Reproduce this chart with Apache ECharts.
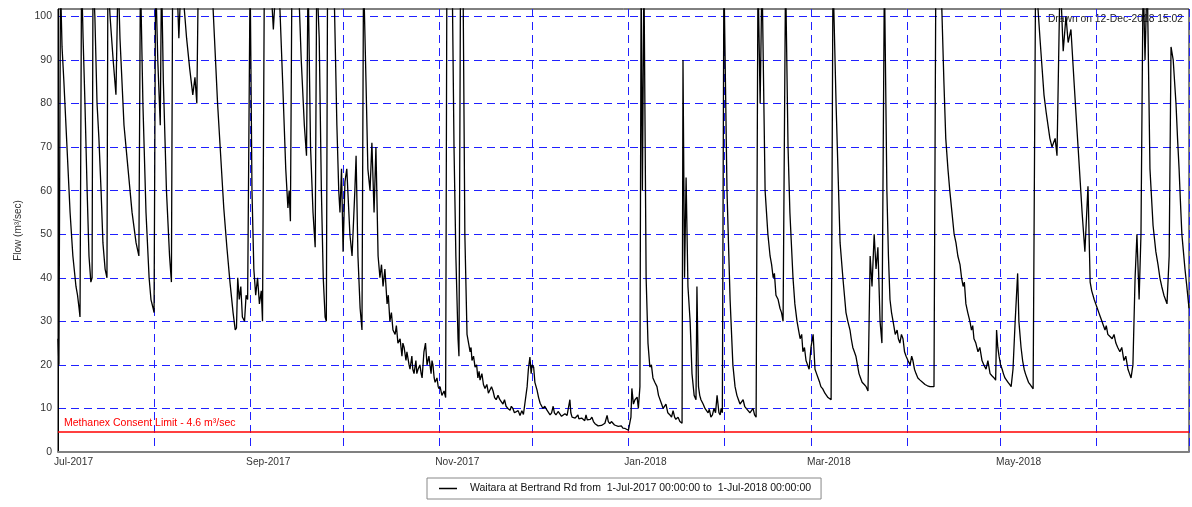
<!DOCTYPE html>
<html>
<head>
<meta charset="utf-8">
<script src="https://cdn.jsdelivr.net/npm/echarts@6/dist/echarts.min.js"></script>
<style>
html,body{margin:0;padding:0;background:#fff;}
#chart{width:1192px;height:507px;}
</style>
</head>
<body>
<div id="chart"></div>
<script>
// Flow (m3/sec); [days since 1-Jul-2017 00:00, flow]
const flowJul = [[0,26],[0.3,20],[0.8,108],[1.3,93],[1.9,85],[2.9,70],[3.9,55],[4.8,45],[5.8,38],[6.3,36],[6.8,33],[7.1,31],[7.6,110],[8.1,95],[8.7,80],[9.4,60],[10.0,45],[10.6,39],[11.0,40],[11.3,110],[11.9,100],[12.6,80],[13.2,72],[13.9,60],[14.5,48],[15.2,42],[15.8,40],[16.1,110],[16.8,100],[17.8,90],[18.7,82],[19.4,110],[20.0,95],[21.3,75],[22.6,65],[23.9,55],[25.2,48],[26.1,45],[26.6,110],[27.4,80],[28.4,55],[29.4,40],[30.0,35],[30.7,33]];
const flowAug = [[31.0,32],[31.5,110],[32.2,90],[33.0,75],[33.4,110],[34.0,85],[35.0,60],[36.0,45],[36.6,39],[37.0,110],[37.7,104],[38.3,110],[39.0,95],[39.8,110],[40.5,104],[41.5,95],[42.5,88],[43.5,82],[44.2,86],[44.8,80],[45.3,110],[46.5,104],[47.5,110],[48.5,104],[49.5,110],[50.5,95],[51.5,80],[52.5,68],[53.5,56],[54.5,47],[55.5,39],[56.5,32],[57.2,28],[57.6,28.5],[58.0,40],[58.5,35],[59.0,38],[59.5,31],[60.2,30],[60.7,36],[61.2,35]];
const flowSep = [[62.0,110],[62.6,60],[63.2,42],[63.8,36],[64.4,40],[65.0,34],[65.6,37],[66.0,30],[66.6,110],[67.5,104],[68.5,110],[69.5,97],[70.5,110],[71.5,104],[72.5,85],[73.5,65],[74.2,56],[74.6,60],[75.0,53],[75.5,110],[76.5,104],[77.5,110],[78.5,90],[79.5,75],[80.2,68],[80.7,110],[81.5,70],[82.3,55],[83.0,47],[83.5,110],[84.3,95],[85.0,60],[85.6,40],[86.2,31],[86.6,30],[87.0,110],[88.0,104],[89.0,110],[90.0,75],[90.6,60],[91.0,55],[91.5,65],[92.0,46]];
const flowOct = [[92.6,62],[93.2,65],[94.2,50],[94.9,45],[95.8,60],[96.2,68],[96.8,45],[97.5,33],[98.1,28],[98.6,110],[99.4,85],[100.0,65],[100.7,60],[101.3,71],[102.0,55],[102.6,70],[103.3,45],[103.9,40],[104.4,43],[104.9,38],[105.5,42],[106.2,34],[106.6,36],[107.1,30],[107.6,32],[108.1,28],[108.8,27],[109.2,29],[109.7,25],[110.4,26],[111.0,22],[111.3,25],[111.7,24],[112.3,21],[112.6,23],[113.0,23],[113.3,20],[113.6,19],[114.2,22],[114.5,19],[114.9,18],[115.5,21],[115.8,18],[116.2,19],[116.8,20],[117.2,18],[117.5,17],[118.1,23],[118.6,25],[119.1,20],[119.4,21],[119.7,22],[120.4,18],[120.7,21],[121.0,20],[121.4,17],[121.7,16],[122.3,17],[122.7,15],[123.0,14.5]];
const flowNov = [[123.3,15],[123.9,13],[124.6,14],[125.1,12.5],[125.5,110],[126.5,104],[127.2,110],[127.8,70],[128.4,45],[129.1,26],[129.4,22],[129.9,110],[130.7,110],[131.3,50],[132.0,27],[132.5,25],[133.0,23],[133.3,24],[133.6,21],[134.1,22],[134.6,19.5],[135.1,20],[135.5,17],[135.9,18.5],[136.2,16.5],[136.8,18],[137.3,15.5],[137.8,14.6],[138.4,15.5],[138.9,13.5],[139.4,13.7],[139.9,15],[140.4,14],[140.9,12.5],[141.4,12],[142.0,13],[142.6,12],[143.1,11.5],[143.6,11],[144.1,12],[144.6,10.5],[145.2,10],[145.9,9.6],[146.3,10.5],[146.8,10],[147.3,9],[147.8,8.8],[148.5,9.5],[149.1,8.4],[149.7,9.5],[150.2,8.6],[150.7,9],[151.4,15],[151.8,19],[152.3,21.8],[152.7,18]];
const flowDec = [[153.0,20],[153.5,19.5],[153.9,16],[154.6,14.2],[155.1,12.5],[155.6,11.2],[156.1,11],[156.5,10],[157.1,10.5],[157.8,9.6],[158.3,9.8],[158.8,8.5],[159.3,9],[159.8,10.5],[160.2,9],[160.7,8.5],[161.4,9.3],[162.0,9],[162.5,8.2],[163.0,8],[163.6,8.8],[164.3,8.4],[164.8,8],[165.2,12],[165.5,9],[165.9,8],[166.4,8.3],[166.9,7.8],[167.4,7.5],[167.8,8.5],[168.1,7.6],[168.5,7.3],[169.0,7.8],[169.4,7.5],[170.0,7.2],[170.4,8.5],[170.8,7.4],[171.3,7],[171.8,7.5],[172.3,8],[172.8,7],[173.3,6.5],[173.8,6.3],[174.3,6],[174.9,5.7],[175.4,6.1],[175.9,6],[176.5,6.6],[177.2,8.4],[177.6,7],[178.1,6.5],[178.6,7],[179.1,6.6],[179.6,6.2],[180.1,6.0],[180.8,5.9],[181.4,5.7],[181.8,6],[182.3,5.5],[183.0,5.4],[183.6,5.2]];
const flowJan = [[184.1,5],[184.6,6.9],[184.9,8],[185.2,14.6],[185.7,11],[186.2,12],[186.9,12.6],[187.3,10],[187.8,15],[188.2,110],[188.6,60],[189.1,110],[189.8,40],[190.4,25],[191.0,19.5],[191.5,20],[192.0,17],[192.6,16],[193.3,15],[193.8,13],[194.3,12.6],[194.8,11],[195.3,10],[196.2,11],[196.8,9],[197.5,8.5],[198.0,8],[198.5,9.5],[199.0,8],[199.4,7.5],[200.1,8],[200.7,7],[201.4,6.6],[201.7,90],[202.2,40],[202.7,63],[203.3,38],[204.0,30],[204.6,18],[205.3,13],[205.9,12],[206.2,38],[206.7,15],[207.1,13],[207.5,12],[208.2,11],[208.8,10],[209.3,9.5],[209.8,9],[210.2,9.8],[210.7,8],[211.2,8.5],[211.7,10],[212.2,9],[212.7,13],[213.3,9],[213.7,8.5],[214.0,10],[214.4,9]];
const flowFeb = [[214.9,110],[215.9,60],[216.9,35],[217.8,20],[218.5,15],[219.1,13],[219.6,12],[220.1,11],[221.1,12],[221.6,10.5],[222.1,10],[222.7,9.5],[223.3,9],[224.3,10],[224.8,8.5],[225.3,8],[225.9,110],[226.6,80],[227.2,110],[228.2,60],[229.1,50],[229.8,45],[230.3,43],[230.8,40],[231.2,41],[231.7,36],[232.4,35],[233.0,33],[233.5,32],[234.0,30],[234.8,110],[235.6,70],[236.2,55],[237.2,40],[237.8,34],[238.5,30],[239.0,28],[239.5,26],[240.0,27],[240.4,23],[240.9,24],[241.4,21],[241.9,20],[242.4,19],[243.0,24]];
const flowMar = [[243.7,27],[244.3,19],[244.8,18],[245.3,17],[245.8,16],[246.2,15],[246.8,14.5],[247.5,13.5],[248.0,13],[248.5,12.5],[249.0,12.3],[249.5,12],[250.1,110],[251.1,80],[251.7,65],[252.4,48],[253.3,40],[253.8,36],[254.3,32],[254.9,30],[255.6,28],[256.0,26],[256.5,24],[257.0,23],[257.5,22],[258.0,20],[258.5,18],[259.0,17],[259.5,16],[260.2,15.5],[260.8,15],[261.4,14],[262.1,45],[262.7,38],[263.4,50],[264.0,42],[264.6,47],[265.3,30],[265.9,25],[266.7,110],[267.5,60],[268.0,45],[268.5,35],[269.0,32],[269.5,30],[270.2,27],[270.8,28],[271.2,26],[271.7,25],[272.2,27],[272.7,26],[273.2,23],[273.7,22]];
const flowApr = [[274.3,21],[275.0,20],[275.5,22],[275.9,21],[276.4,19],[276.9,18],[277.5,17],[278.2,16.5],[279.0,16],[279.8,15.5],[280.6,15.2],[281.4,15],[282.0,14.8],[282.7,15],[283.3,110],[284.3,104],[284.9,110],[285.9,85],[286.5,72],[287.2,65],[287.8,60],[288.5,55],[289.2,50],[289.8,48],[290.4,45],[291.1,43],[291.6,40],[292.1,38],[292.5,39],[293.0,34],[293.6,32],[294.3,30],[294.8,28],[295.2,29],[295.6,26],[296.2,25],[296.9,23],[297.5,24],[298.2,21],[298.8,20],[299.5,19],[300.1,21],[300.8,18],[301.4,17.5],[302.1,17],[302.6,16.5],[302.9,28],[303.3,24],[303.7,22]];
const flowMay = [[304.2,20],[304.7,19],[305.1,18],[305.6,17],[306.1,16.5],[306.6,16],[307.1,15.5],[307.6,15],[308.2,19],[308.9,30],[309.7,41],[310.1,30],[310.8,24],[311.3,21],[311.8,19],[312.2,18],[312.7,17],[313.2,16],[313.7,15.5],[314.2,15],[314.7,14.5],[315.5,110],[316.9,95],[317.6,88],[318.2,82],[318.9,78],[319.5,75],[320.1,72],[320.8,70],[321.8,72],[322.4,68],[323.4,110],[324.4,92],[325.3,100],[326.0,94],[326.9,97],[327.9,85],[328.5,78],[329.2,70],[329.9,62],[330.5,55],[331.0,50],[331.4,46],[332.4,61],[333.1,39],[333.6,37],[334.0,36]];
const flowJun = [[334.4,35],[334.9,34],[335.4,33],[335.9,32],[336.4,31],[336.9,30],[337.4,29],[337.9,28],[338.3,29],[338.8,27],[339.5,26.5],[340.2,26],[340.8,27],[341.4,25],[342.0,24],[342.7,23],[343.3,24],[344.0,21],[344.6,22],[345.3,19],[345.8,18],[346.3,17],[346.9,20],[347.6,40],[348.2,50],[348.9,35],[349.5,50],[350.2,110],[350.8,90],[351.5,110],[352.4,65],[353.4,52],[354.3,46],[355.0,43],[355.6,40],[356.2,38],[356.9,36],[357.4,35],[357.9,34],[358.6,45],[359.2,93],[359.9,90],[360.8,80],[361.3,72],[361.8,65],[362.2,58],[362.7,50],[363.2,46],[363.7,42],[364.3,38],[365.0,33]];

const consentLimit = 4.6;
const yTicks = {min: 0, max: 101.7, interval: 10};
const monthNames = ['Jan','Feb','Mar','Apr','May','Jun','Jul','Aug','Sep','Oct','Nov','Dec'];
const seriesName = 'Waitara at Bertrand Rd from  1-Jul-2017 00:00:00 to  1-Jul-2018 00:00:00';
const drawnText = 'Drawn on 12-Dec-2018 15:02';
const limitText = 'Methanex Consent Limit - 4.6 m\u00B3/sec';

const START = new Date(2017, 6, 1).getTime();
const END = new Date(2018, 6, 1).getTime();
const DAY = 86400000;
const data = [].concat(flowJul, flowAug, flowSep, flowOct, flowNov, flowDec, flowJan, flowFeb, flowMar, flowApr, flowMay, flowJun)
  .map(p => [START + p[0] * DAY, p[1]]);

const FONT = 'Liberation Sans, Arial, sans-serif';
const gridBlue = '#2020ff';

const chart = echarts.init(document.getElementById('chart'));
chart.setOption({
  animation: false,
  backgroundColor: '#fff',
  textStyle: {fontFamily: FONT},
  grid: {left: 58, right: 3, top: 9, bottom: 55, show: true, borderColor: '#000', borderWidth: 1, backgroundColor: 'transparent'},
  legend: {
    left: 427, top: 478,
    itemWidth: 18, itemHeight: 1.5, icon: 'rect', itemGap: 10,
    padding: [5, 10, 5, 12],
    borderColor: '#888', borderWidth: 1,
    textStyle: {fontFamily: FONT, fontSize: 10.5, color: '#111', padding: [0, 0, 0, 8]},
    data: [{name: seriesName, itemStyle: {color: '#000'}}]
  },
  graphic: [{
    type: 'text', right: 9, top: 14,
    style: {text: drawnText, fill: '#222', font: '10.3px ' + FONT}
  }],
  xAxis: {
    type: 'time', min: START, max: END,
    minInterval: 28 * DAY, maxInterval: 31 * DAY,
    axisLine: {show: true, lineStyle: {color: '#808080', width: 2}},
    axisTick: {show: false},
    axisLabel: {
      color: '#333', fontSize: 10.2, fontFamily: FONT, margin: 5, align: 'left', hideOverlap: false,
      padding: [0, 0, 0, -4],
      formatter: function (v) {
        const d = new Date(v);
        const m = d.getMonth();
        if (v >= END - DAY) return '';
        if (m % 2 === 0) return monthNames[m] + '-' + d.getFullYear();
        return '';
      }
    },
    splitLine: {show: true, showMinLine: false, showMaxLine: false, lineStyle: {color: gridBlue, type: [8, 5], width: 1}}
  },
  yAxis: {
    type: 'value', min: yTicks.min, max: yTicks.max, interval: yTicks.interval,
    name: 'Flow (m\u00B3/sec)', nameLocation: 'middle', nameGap: 32, nameRotate: 90,
    nameTextStyle: {fontSize: 10, color: '#333', fontFamily: FONT},
    axisLine: {show: true, lineStyle: {color: '#000', width: 1}},
    axisTick: {show: false},
    axisLabel: {color: '#333', fontSize: 10.5, fontFamily: FONT, margin: 6, showMaxLabel: false,
      formatter: function (v) { return (v % 10 === 0) ? String(v) : ''; }},
    splitLine: {show: true, showMinLine: false, showMaxLine: false, lineStyle: {color: gridBlue, type: [8, 5], width: 1}}
  },
  series: [{
    name: seriesName, type: 'line', data: data,
    showSymbol: false, symbol: 'none', clip: true,
    lineStyle: {color: '#000', width: 1.3},
    itemStyle: {color: '#000'},
    markLine: {
      silent: true, symbol: 'none',
      lineStyle: {color: '#ff0000', width: 1.5, type: 'solid'},
      label: {show: true, position: 'insideStartTop', formatter: limitText, color: '#ff0000', fontSize: 10.5, fontFamily: FONT, distance: [6, 3]},
      data: [{yAxis: consentLimit}]
    }
  }]
});
</script>
</body>
</html>
